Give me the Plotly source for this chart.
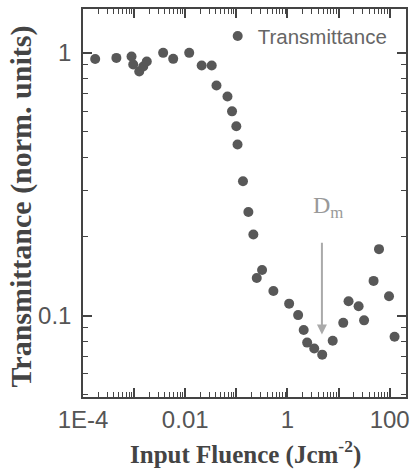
import numpy as np
import plotly.graph_objects as go

# ---- data ----
fluence = [1.73e-4, 4.5e-4, 8.9e-4, 9.6e-4, 1.26e-3, 1.51e-3, 1.77e-3, 3.7e-3, 5.82e-3,
           0.01197, 0.021, 0.033, 0.0409, 0.0671, 0.0824, 0.1, 0.1056, 0.135, 0.172,
           0.2155, 0.251, 0.319, 0.5315, 1.08, 1.62, 2.08, 2.43, 3.34, 4.79, 7.69,
           12.36, 15.7, 24.7, 31.6, 48.5, 61.9, 97.2, 124.8]
transmittance = [0.947, 0.957, 0.968, 0.903, 0.849, 0.887, 0.927, 1.0, 0.949,
                 1.0, 0.895, 0.895, 0.751, 0.682, 0.599, 0.526, 0.448, 0.3245, 0.2477,
                 0.2034, 0.139, 0.149, 0.124, 0.111, 0.1004, 0.0881, 0.0789, 0.0749, 0.0710, 0.0802,
                 0.0938, 0.1133, 0.1085, 0.0959, 0.1355, 0.179, 0.1184, 0.0830]

x_major = [1e-4, 1e-3, 1e-2, 1e-1, 1, 10, 100]
x_major_text = ["1E-4", "", "0.01", "", "1", "", "100"]
y_major = [0.1, 1]
y_major_text = ["0.1", "1"]

dm_fluence = 4.73      # arrow position (D_m)
dm_arrow_top = 0.192
dm_arrow_tip = 0.0847
dm_label_y = 0.26

x_minor = [k * 10.0 ** d for d in range(-4, 3) for k in range(2, 10) if k * 10.0 ** d < 210]
y_minor = [k * 0.01 for k in range(5, 10)] + [k * 0.1 for k in range(2, 10)]

X_RANGE = [-4, 2.32]
Y_RANGE = [-1.31, 0.167]

fig = go.Figure()
fig.add_trace(go.Scatter(
    x=fluence, y=transmittance, mode="markers", name="Transmittance",
    marker=dict(color="#585858", size=10, line=dict(width=0)),
))

tickfont = dict(family="Liberation Sans, Arial", size=24, color="#555")
minor_ticks = dict(ticks="inside", ticklen=5, tickwidth=1.2, tickcolor="#444", showgrid=False)

fig.update_layout(
    xaxis=dict(type="log", range=X_RANGE, showline=True, linecolor="#444", linewidth=1.5, mirror="allticks",
               ticks="inside", ticklen=9, tickwidth=1.5, tickcolor="#444",
               tickmode="array", tickvals=x_major, ticktext=x_major_text,
               minor=dict(minor_ticks, tickmode="array", tickvals=x_minor),
               showgrid=False, zeroline=False, automargin=False, tickfont=tickfont),
    yaxis=dict(type="log", range=Y_RANGE, showline=True, linecolor="#444", linewidth=1.5, mirror="allticks",
               ticks="inside", ticklen=9, tickwidth=1.5, tickcolor="#444",
               tickmode="array", tickvals=y_major, ticktext=y_major_text, ticklabelstandoff=5,
               minor=dict(minor_ticks, tickmode="array", tickvals=y_minor),
               showgrid=False, zeroline=False, automargin=False, tickfont=tickfont),
)

title_font = dict(family="Liberation Serif, Times New Roman", size=25, color="#444", weight="bold")

annotations = [
    dict(text="Input Fluence (Jcm<sup>-2</sup>)", xref="paper", yref="paper", x=0.503, y=-0.144,
         xanchor="center", yanchor="middle", showarrow=False, font=title_font),
    dict(text="Transmittance (norm. units)", xref="paper", yref="paper", x=-0.189, y=0.491,
         xanchor="center", yanchor="middle", showarrow=False, textangle=-90,
         font=dict(title_font, size=30)),
    dict(x=np.log10(dm_fluence), y=np.log10(dm_arrow_tip), ax=np.log10(dm_fluence), ay=np.log10(dm_arrow_top),
         xref="x", yref="y", axref="x", ayref="y", text="", showarrow=True,
         arrowhead=2, arrowsize=1, arrowwidth=2, arrowcolor="#aaaaaa"),
    dict(text="D<sub>m</sub>", x=np.log10(dm_fluence), y=np.log10(dm_label_y), xref="x", yref="y",
         xanchor="center", yanchor="middle", showarrow=False, xshift=6,
         font=dict(family="Liberation Serif, Times New Roman", size=24, color="#999")),
]

fig.update_layout(
    width=413, height=470,
    margin=dict(l=83, r=7, t=9, b=73, autoexpand=False),
    paper_bgcolor="white", plot_bgcolor="white",
    showlegend=True,
    legend=dict(x=0.417, y=0.93, xanchor="left", yanchor="middle", bgcolor="rgba(0,0,0,0)",
                font=dict(family="Liberation Sans, Arial", size=20.5, color="#666"),
                borderwidth=0),
    annotations=annotations,
)

# remove the default 8px page margin so the figure sits at the window's top-left corner
fig.write_html("out.html", config={"displayModeBar": False},
               post_script="document.body.style.margin='0';")
